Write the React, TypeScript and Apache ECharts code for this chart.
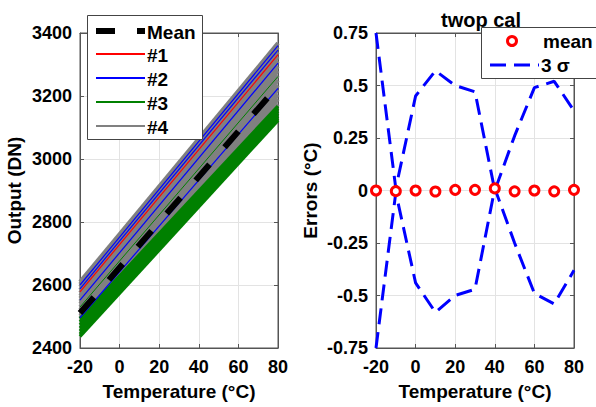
import React, { useEffect, useRef } from "react";
import * as echarts from "echarts";

// ---------- data ----------
const lineTemps = [-20, 80];
const meanLine = [2511, 3232];

// group #4 (gray): values at -20 °C and at 80 °C
const g4Start = [2610, 2602, 2594, 2584, 2575, 2566, 2558, 2548, 2540, 2530, 2521, 2512, 2503, 2494];
const g4End = [3368, 3355, 3340, 3325, 3311, 3295, 3280, 3265, 3250, 3234, 3220, 3204, 3190, 3174];
// group #3 (green)
const g3Start = [2493, 2483, 2473, 2463, 2453, 2444, 2437];
const g3End = [3168, 3160, 3152, 3144, 3136, 3129, 3123];
const g3ThinStart = [2530];
const g3ThinEnd = [3262];
// group #2 (blue)
const g2Start = [2600, 2588, 2552, 2496];
const g2End = [3360, 3346, 3304, 3224];
// group #1 (red)
const g1Start = [2578];
const g1End = [3331];

const errTemps = [-20, -10, 0, 10, 20, 30, 40, 50, 60, 70, 80];
const errMean = [0.0, -0.003, 0.0, -0.005, 0.003, 0.003, 0.01, -0.004, 0.0, -0.004, 0.003];
const sigmaUpper = [0.75, 0.01, 0.45, 0.57, 0.5, 0.47, 0.0, 0.26, 0.49, 0.52, 0.38];
const sigmaLower = [-0.75, -0.01, -0.44, -0.58, -0.5, -0.47, 0.01, -0.25, -0.49, -0.54, -0.38];

const leftLegendNames = ["Mean", "#1", "#2", "#3", "#4"];
const rightLegendNames = ["mean", "3 σ"];

const xTicksInterval = 20;
const leftYMin = 2400;
const leftYMax = 3400;
const rightYMin = -0.75;
const rightYMax = 0.75;

const FONT = "'Liberation Sans', Arial, sans-serif";

export default function App() {
  const ref = useRef<HTMLDivElement>(null);
  useEffect(() => {
    if (!ref.current) return;
    const chart = echarts.init(ref.current, null, { renderer: "svg" });

    const mkLines = (name: string, starts: number[], ends: number[], color: string, width: number) =>
      starts.map((s, i) => ({
        name,
        type: "line",
        xAxisIndex: 0,
        yAxisIndex: 0,
        symbol: "none",
        silent: true,
        lineStyle: { color, width },
        itemStyle: { color },
        data: [
          [lineTemps[0], s],
          [lineTemps[1], ends[i]],
        ],
      }));

    const tickStyle = { fontSize: 18, fontWeight: "bold", color: "#000", fontFamily: FONT };
    const nameStyle = { fontSize: 19, fontWeight: "bold", color: "#000", fontFamily: FONT };
    const splitLine = { show: true, lineStyle: { color: "#e3e3e3", width: 1 } };
    const axisLine = { show: true, onZero: false, lineStyle: { color: "#555", width: 1 } };
    const axisTick = { show: true, inside: true, length: 4, lineStyle: { color: "#555" } };

    const mkX = (gridIndex: number, main: boolean) => ({
      type: "value",
      gridIndex,
      min: -20,
      max: 80,
      interval: xTicksInterval,
      position: main ? "bottom" : "top",
      axisLine,
      axisTick,
      splitLine: main ? splitLine : { show: false },
      axisLabel: main ? { ...tickStyle, margin: 10 } : { show: false },
      name: main ? "Temperature (°C)" : "",
      nameLocation: "middle",
      nameGap: 34,
      nameTextStyle: nameStyle,
    });
    const mkY = (
      gridIndex: number,
      main: boolean,
      min: number,
      max: number,
      interval: number,
      name: string,
      fmt: (v: number) => string
    ) => ({
      type: "value",
      gridIndex,
      min,
      max,
      interval,
      position: main ? "left" : "right",
      axisLine,
      axisTick,
      splitLine: main ? splitLine : { show: false },
      axisLabel: main ? { ...tickStyle, margin: 8, formatter: fmt } : { show: false },
      name: main ? name : "",
      nameLocation: "middle",
      nameGap: 56,
      nameTextStyle: nameStyle,
    });

    const txt = (text: string, x: number, y: number) => ({
      type: "text",
      z: 100,
      style: {
        text,
        x,
        y,
        fill: "#000",
        fontSize: 19,
        fontWeight: "bold",
        fontFamily: FONT,
        verticalAlign: "middle",
        align: "left",
      },
    });
    const lgLine = (x1: number, x2: number, y: number, stroke: string, lineWidth: number, lineDash?: number[]) => ({
      type: "line",
      z: 100,
      shape: { x1, y1: y, x2, y2: y },
      style: { stroke, lineWidth, lineDash: lineDash || null },
    });

    const leftRows = [31, 54, 78, 102, 126];
    const graphic = [
      // left legend
      { type: "rect", z: 99, shape: { x: 87.5, y: 15.5, width: 115, height: 124 }, style: { fill: "#fff", stroke: "#444", lineWidth: 1 } },
      lgLine(96, 145, leftRows[0], "#000", 6, [19, 22]),
      lgLine(96, 145, leftRows[1], "#ff0000", 2),
      lgLine(96, 145, leftRows[2], "#0000ff", 2),
      lgLine(96, 145, leftRows[3], "#008000", 2),
      lgLine(96, 145, leftRows[4], "#808080", 2),
      ...leftLegendNames.map((n, i) => txt(n, 147, leftRows[i] + 1)),
      // right legend
      { type: "rect", z: 99, shape: { x: 481.5, y: 27.5, width: 130, height: 51 }, style: { fill: "#fff", stroke: "#444", lineWidth: 1 } },
      { type: "circle", z: 100, shape: { cx: 512, cy: 41, r: 4.5 }, style: { fill: "#fff", stroke: "#ff0000", lineWidth: 3 } },
      lgLine(490, 539, 65, "#0000ff", 3, [16, 8]),
      txt(rightLegendNames[0], 543, 41),
      txt(rightLegendNames[1], 541, 65),
    ];

    const option: any = {
      animation: false,
      backgroundColor: "#fff",
      textStyle: { fontFamily: FONT },
      title: {
        text: "twop cal",
        left: 476,
        top: 5,
        textAlign: "center",
        textStyle: { fontSize: 20, fontWeight: "bold", color: "#000", fontFamily: FONT },
      },
      grid: [
        { left: 80, top: 33, width: 198, height: 315, show: true, borderColor: "#555", borderWidth: 1, backgroundColor: "#fff" },
        { left: 376, top: 33, width: 198, height: 315, show: true, borderColor: "#555", borderWidth: 1, backgroundColor: "#fff" },
      ],
      xAxis: [mkX(0, true), mkX(0, false), mkX(1, true), mkX(1, false)],
      yAxis: [
        mkY(0, true, leftYMin, leftYMax, 200, "Output (DN)", (v) => String(v)),
        mkY(0, false, leftYMin, leftYMax, 200, "", (v) => String(v)),
        mkY(1, true, rightYMin, rightYMax, 0.25, "Errors (°C)", (v) => String(v)),
        mkY(1, false, rightYMin, rightYMax, 0.25, "", (v) => String(v)),
      ],
      graphic,
      series: [
        ...mkLines("#4", g4Start, g4End, "#808080", 4),
        ...mkLines("#3", g3Start, g3End, "#008000", 3.5),
        ...mkLines("#3", g3ThinStart, g3ThinEnd, "#008000", 1),
        ...mkLines("#2", g2Start, g2End, "#0000ff", 1.2),
        ...mkLines("#1", g1Start, g1End, "#ff0000", 1.2),
        {
          name: "Mean",
          type: "line",
          xAxisIndex: 0,
          yAxisIndex: 0,
          symbol: "none",
          lineStyle: { color: "#000", width: 6, type: [21, 23] },
          itemStyle: { color: "#000" },
          data: [
            [lineTemps[0], meanLine[0]],
            [lineTemps[1], meanLine[1]],
          ],
        },
        {
          name: "3 σ",
          type: "line",
          xAxisIndex: 2,
          yAxisIndex: 2,
          symbol: "none",
          lineStyle: { color: "#0000ff", width: 3, type: [16, 8] },
          itemStyle: { color: "#0000ff" },
          data: errTemps.map((t, i) => [t, sigmaUpper[i]]),
        },
        {
          name: "3 σ",
          type: "line",
          xAxisIndex: 2,
          yAxisIndex: 2,
          symbol: "none",
          lineStyle: { color: "#0000ff", width: 3, type: [16, 8] },
          itemStyle: { color: "#0000ff" },
          data: errTemps.map((t, i) => [t, sigmaLower[i]]),
        },
        {
          name: "mean",
          type: "scatter",
          xAxisIndex: 2,
          yAxisIndex: 2,
          symbol: "circle",
          symbolSize: 9,
          itemStyle: { color: "#ffffff", borderColor: "#ff0000", borderWidth: 3, opacity: 1 },
          data: errTemps.map((t, i) => [t, errMean[i]]),
          z: 5,
        },
      ],
    };
    chart.setOption(option);
    return () => chart.dispose();
  }, []);
  return (
    <div
      ref={ref}
      style={{ position: "fixed", left: 0, top: 0, width: 596, height: 407, background: "#fff" }}
    />
  );
}
